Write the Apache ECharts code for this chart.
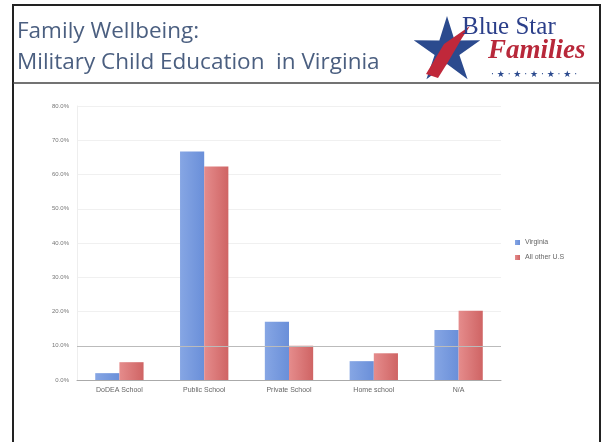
<!DOCTYPE html>
<html><head><meta charset="utf-8">
<script src="https://cdn.jsdelivr.net/npm/echarts@6/dist/echarts.min.js"></script>
<style>html,body{margin:0;padding:0;background:#fff}#c{width:601px;height:442px}</style>
</head><body><div id="c"></div>
<script>
const categories = ['DoDEA School', 'Public School', 'Private School', 'Home school', 'N/A'];
const virginia = [2.0, 66.7, 17.0, 5.5, 14.6];
const otherUS = [5.2, 62.3, 10.0, 7.8, 20.2];
const seriesNames = ['Virginia', 'All other U.S'];
const titleLines = ['Family Wellbeing:', 'Military Child Education  in Virginia'];

const chart = echarts.init(document.getElementById('c'), null, {renderer: 'canvas'});
const grad = (a, b) => new echarts.graphic.LinearGradient(0, 0, 1, 0, [{offset: 0, color: a}, {offset: 1, color: b}]);

function star(cx, cy, R, r) {
  const pts = [];
  for (let i = 0; i < 10; i++) {
    const ang = -Math.PI / 2 + i * Math.PI / 5;
    const rad = i % 2 === 0 ? R : r;
    pts.push([cx + rad * Math.cos(ang), cy + rad * Math.sin(ang)]);
  }
  return pts;
}

chart.setOption({
  animation: false,
  backgroundColor: '#fff',
  textStyle: {fontFamily: 'Liberation Sans'},
  grid: {left: 77, right: 100, top: 106, bottom: 62, containLabel: false},
  legend: {
    orient: 'vertical', left: 510, top: 234, itemWidth: 5, itemHeight: 5, itemGap: 8,
    icon: 'rect',
    textStyle: {fontSize: 7, color: '#666', fontFamily: 'Liberation Sans'},
    data: seriesNames
  },
  xAxis: {
    type: 'category', data: categories,
    axisLine: {lineStyle: {color: '#aaa'}},
    axisTick: {show: false},
    axisLabel: {fontSize: 7, color: '#666', margin: 7}
  },
  yAxis: {
    type: 'value', min: 0, max: 80, interval: 10,
    axisLine: {show: true, lineStyle: {color: '#eee'}},
    axisLabel: {fontSize: 6, color: '#777', margin: 8, formatter: v => v.toFixed(1) + '%'},
    splitLine: {lineStyle: {color: '#f0f0f0'}}
  },
  series: [
    {name: seriesNames[0], type: 'bar', data: virginia, barGap: '0%', barCategoryGap: '43%',
     itemStyle: {color: grad('#86a6e4', '#6a8fd9')},
     markLine: {silent: true, symbol: 'none', label: {show: false},
       lineStyle: {color: '#bbb', type: 'solid', width: 1}, data: [{yAxis: 10}]}},
    {name: seriesNames[1], type: 'bar', data: otherUS,
     itemStyle: {color: grad('#e58c8c', '#cf6464')}}
  ],
  graphic: [
    {type: 'rect', shape: {x: 13, y: 5, width: 587, height: 440}, style: {fill: 'none', stroke: '#222', lineWidth: 2}},
    {type: 'line', shape: {x1: 13, y1: 83, x2: 600, y2: 83}, style: {stroke: '#444', lineWidth: 1.5}},
    {type: 'text', left: 17, top: 20, style: {text: titleLines[0], font: '22.5px "Open Sans"', fill: '#4b5f80'}},
    {type: 'text', left: 17, top: 51, style: {text: titleLines[1], font: '22.5px "Open Sans"', fill: '#4b5f80'}},
    {type: 'polygon', shape: {points: star(447, 51, 35, 13)}, style: {fill: '#2b4a8e'}},
    {type: 'polygon', shape: {points: [[426, 74], [444, 44], [470, 26], [462, 38], [448, 62], [438, 78]]}, style: {fill: '#c0283a'}},
    {type: 'text', left: 462, top: 15, style: {text: 'Blue Star', font: '25px "Liberation Serif"', fill: '#2b3f8a'}},
    {type: 'text', left: 488, top: 38, style: {text: 'Families', font: 'italic bold 27px "Liberation Serif"', fill: '#b8283a'}},
    {type: 'text', left: 491, top: 70, style: {text: '· ★ · ★ · ★ · ★ · ★ ·', font: '9px "DejaVu Sans"', fill: '#2b4a8e'}}
  ]
});
</script></body></html>
